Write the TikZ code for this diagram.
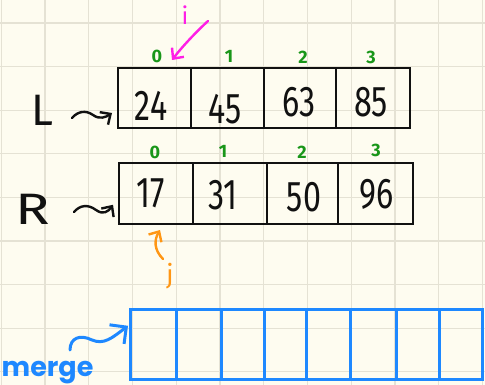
\documentclass[tikz,border=0pt]{standalone}
\usepackage{fontspec}
\setmainfont{Fira Sans}
\newfontfamily\mergefont{Poppins}
\usetikzlibrary{arrows.meta,calc}
\definecolor{bg}{RGB}{254,252,240}
\definecolor{gridc}{RGB}{229,226,212}
\definecolor{ink}{RGB}{17,17,17}
\definecolor{grn}{RGB}{25,150,25}
\definecolor{mag}{RGB}{255,30,230}
\definecolor{org}{RGB}{255,150,20}
\definecolor{blu}{RGB}{30,136,255}
\begin{document}
\begin{tikzpicture}[x=1pt,y=-1pt,
  gridline/.style={draw=gridc,line width=1.2pt},
  cell/.style={draw=ink,line width=2.4pt,minimum height=60pt,inner sep=0pt,outer sep=0pt},
  mcell/.style={draw=blu,line width=3pt,minimum height=70pt,inner sep=0pt,outer sep=0pt},
  val/.style={font=\fontsize{43}{43}\selectfont,text=ink,inner sep=0pt},
  idx/.style={font=\bfseries\fontsize{18}{18}\selectfont,text=grn,inner sep=0pt},
  side/.style={font=\fontsize{44}{44}\selectfont,text=ink,inner sep=0pt},
  hand/.style={line width=2.4pt,line cap=round,line join=round},
  smallbarb/.style={-{Straight Barb[length=8pt,width=15pt]}},
  bigbarb/.style={-{Straight Barb[length=12pt,width=24pt]}}
]
\fill[bg] (0,0) rectangle (485,385);
\useasboundingbox (0,0) rectangle (485,385);
% grid
\foreach \k in {0,...,11} \draw[gridline] ({1.25+43.75*\k},0) -- ({1.25+43.75*\k},385);
\foreach \k in {0,...,8} \draw[gridline] (0,{23+43.6*\k}) -- (485,{23+43.6*\k});

% L array
\node[cell,minimum width=73pt] (L0) at (154.5,98) {};
\node[cell,minimum width=73pt] (L1) at (227.5,98) {};
\node[cell,minimum width=72pt] (L2) at (300,98) {};
\node[cell,minimum width=74pt] (L3) at (373,98) {};
\node[val] (l0) at (151,106) {\scalebox{0.75}[1]{24}};
\node[val] (l1) at (225,109) {\scalebox{0.75}[1]{45}};
\node[val] (l2) at (299,102) {\scalebox{0.75}[1]{63}};
\node[val] (l3) at (371,102) {\scalebox{0.75}[1]{85}};
\node[idx] (li0) at (157,56) {0};
\node[idx] (li1) at (229,56) {1};
\node[idx] (li2) at (303,57) {2};
\node[idx] (li3) at (371,57) {3};

% R array
\node[cell,minimum width=74pt,minimum height=61pt] (R0) at (156,193.5) {};
\node[cell,minimum width=74pt,minimum height=61pt] (R1) at (230,193.5) {};
\node[cell,minimum width=71pt,minimum height=61pt] (R2) at (302.5,193.5) {};
\node[cell,minimum width=75pt,minimum height=61pt] (R3) at (375.5,193.5) {};
\node[val] (r0) at (151,193) {\scalebox{0.75}[1]{17}};
\node[val] (r1) at (223,195) {\scalebox{0.75}[1]{31}};
\node[val] (r2) at (304,197) {\scalebox{0.75}[1]{50}};
\node[val] (r3) at (377,194) {\scalebox{0.75}[1]{96}};
\node[idx] (ri0) at (155,152) {0};
\node[idx] (ri1) at (223,151) {1};
\node[idx] (ri2) at (302,152) {2};
\node[idx] (ri3) at (376,150) {3};

% side labels
\node[side] (Llab) at (42,110) {L};
\node[side] (Rlab) at (33,209) {\scalebox{1.3}[1]{R}};
\coordinate (La) at (72,118);
\coordinate (Ra) at (74,212);
\draw[hand,ink,smallbarb] (La) .. controls (78,111) and (86,110) .. (93,115)
  .. controls (100,120) and (106,117) .. ($(L0.west)!0.5!(L0.south west)+(-6,0)$);
\draw[hand,ink,smallbarb] (Ra) .. controls (80,205) and (88,204) .. (96,210)
  .. controls (103,215) and (108,212) .. ($(R0.west)!0.37!(R0.south west)+(-6,0)$);

% pointer i
\node[font=\fontsize{24}{24}\selectfont,text=mag,inner sep=0pt] (ilab) at (185,15) {i};
\coordinate (ist) at (208,21);
\draw[hand,mag,smallbarb] (ist) .. controls (195,33) and (182,47) .. ($(L0.north)+(17.5,-8)$);

% pointer j
\node[font=\fontsize{26}{26}\selectfont,text=org,inner sep=0pt] (jlab) at (170,276) {j};
\coordinate (jst) at (163,259);
\draw[hand,org,smallbarb] (jst) .. controls (154,250) and (154,240) .. ($(R0.south)+(4,6)$);

% merge array
\node[mcell,minimum width=46pt] (M0) at (153,344) {};
\node[mcell,minimum width=45pt] (M1) at (198.5,344) {};
\node[mcell,minimum width=43pt] (M2) at (242.5,344) {};
\node[mcell,minimum width=42pt] (M3) at (285,344) {};
\node[mcell,minimum width=44pt] (M4) at (328,344) {};
\node[mcell,minimum width=46pt] (M5) at (373,344) {};
\node[mcell,minimum width=43pt] (M6) at (417.5,344) {};
\node[mcell,minimum width=43pt] (M7) at (460.5,344) {};
\node[anchor=base west,font=\mergefont\bfseries\fontsize{27}{27}\selectfont,text=blu,inner sep=0pt] (mlab) at (1.5,376) {merge};
\coordinate (mst) at (70,350);
\draw[line width=3pt,line cap=round,line join=round,blu,bigbarb] (mst) .. controls (70,338) and (80,334) .. (92,340)
  .. controls (104,345) and (112,338) .. ($(M0.north west)!0.24!(M0.south west)+(-2,0)$);
\end{tikzpicture}
\end{document}
